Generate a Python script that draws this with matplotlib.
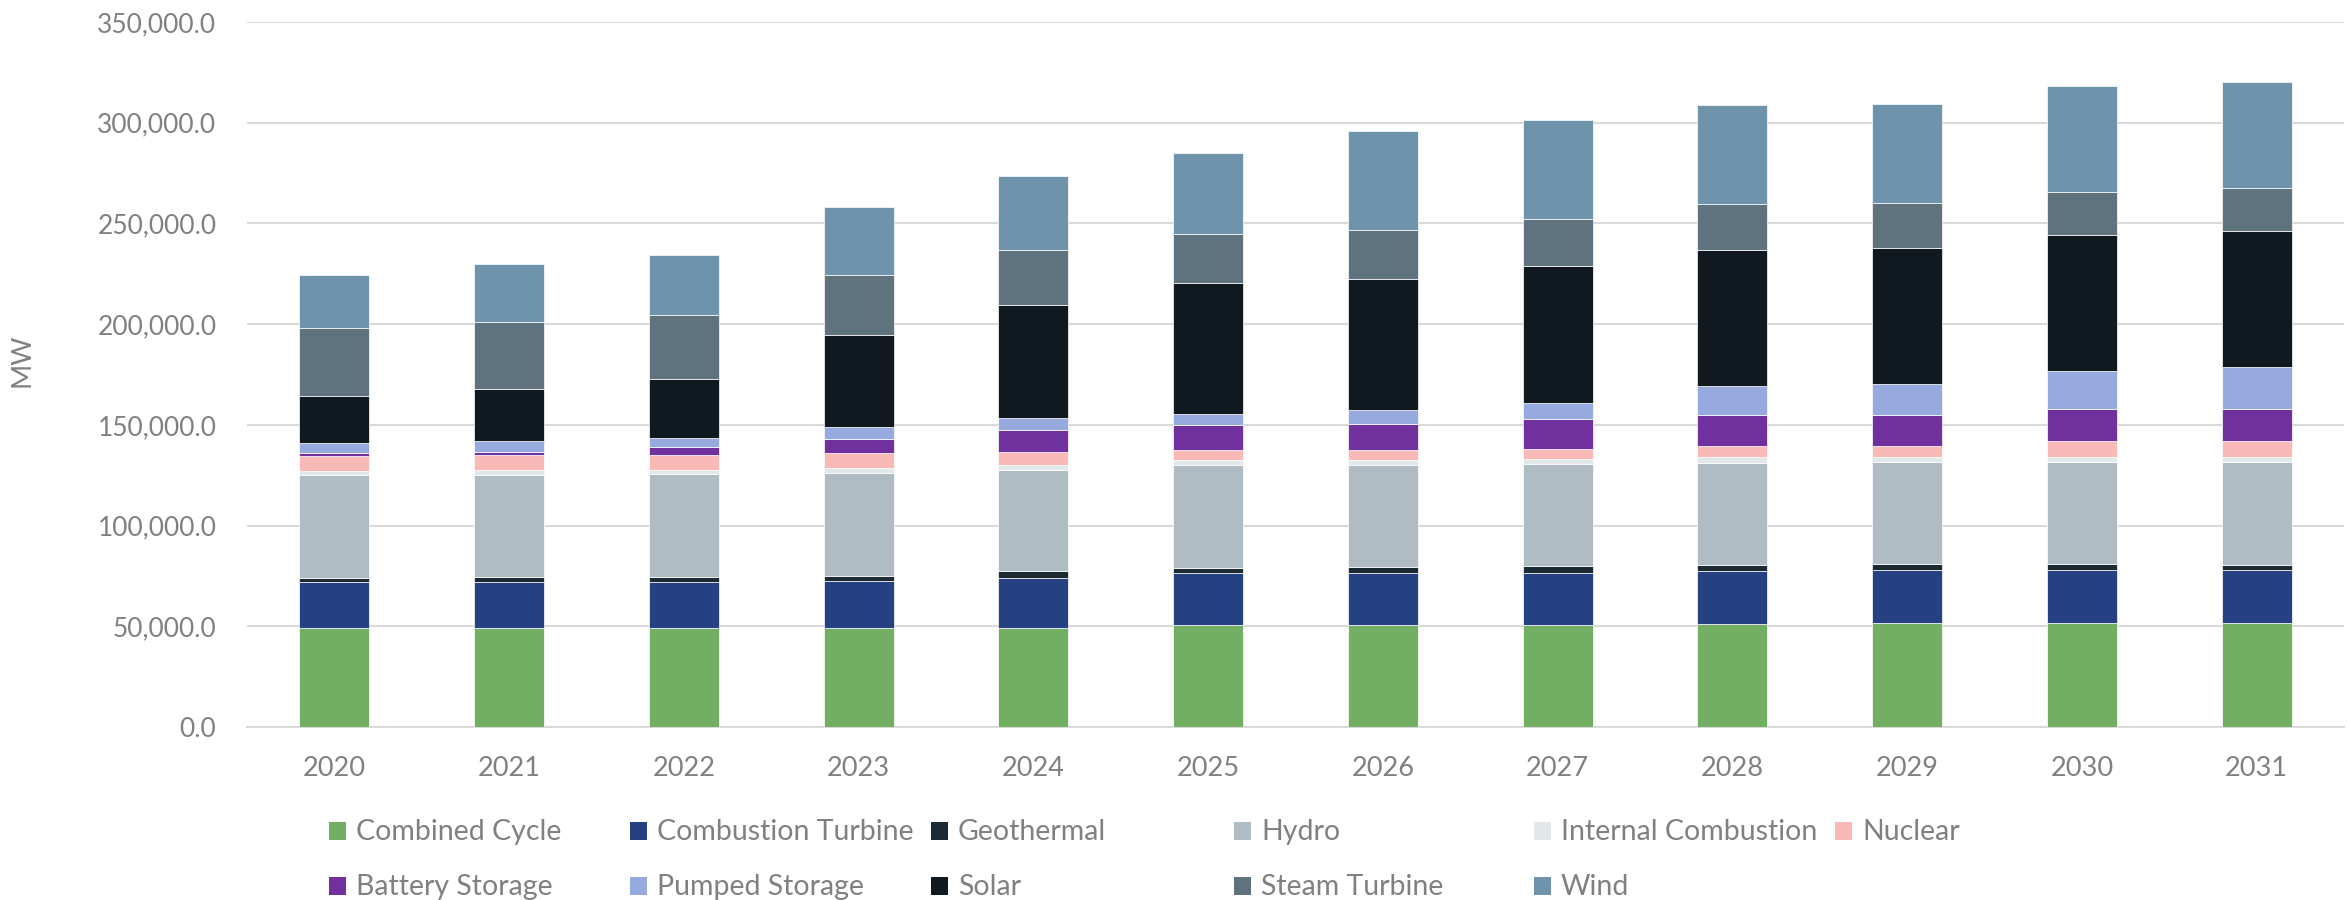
import matplotlib
matplotlib.use("Agg")
import matplotlib.pyplot as plt
from matplotlib.patches import Rectangle
from matplotlib.ticker import FuncFormatter, MultipleLocator
import numpy as np

plt.rcParams['font.family'] = ['Lato', 'DejaVu Sans']

years = ['2020', '2021', '2022', '2023', '2024', '2025',
         '2026', '2027', '2028', '2029', '2030', '2031']

# MW by technology, stacked bottom to top
combined_cycle = [49100, 49100, 49100, 49100, 49100, 50700, 50500, 50500, 51100, 51400, 51400, 51400]
combustion_turbine = [22850, 22850, 22850, 23500, 24900, 25750, 25950, 25950, 26350, 26350, 26350, 26350]
geothermal = [2100, 2400, 2750, 2600, 3200, 2650, 3100, 3300, 3100, 3100, 3100, 2900]
hydro = [50850, 50900, 50700, 50700, 50400, 50900, 50700, 50900, 50700, 50500, 50500, 50700]
internal_combustion = [2250, 2250, 2250, 2600, 2500, 2450, 2250, 2250, 2700, 2450, 2450, 2450]
nuclear = [7500, 7500, 7300, 7300, 6300, 5150, 5150, 5350, 5350, 5500, 8400, 8200]
battery_storage = [1200, 1750, 3850, 7300, 11000, 12150, 12750, 14850, 15450, 15500, 15700, 15950]
pumped_storage = [5050, 5200, 4900, 5750, 5900, 5750, 7000, 7850, 14400, 15300, 18600, 20600]
solar = [23200, 25800, 28900, 45800, 56300, 65100, 64900, 67750, 67800, 67550, 67800, 67800]
steam_turbine = [33800, 33100, 31700, 29600, 27200, 24300, 24300, 23300, 22850, 22600, 21500, 21250]
wind = [26300, 29100, 30000, 34000, 36550, 39950, 49250, 49250, 49000, 49200, 52500, 52700]

labels = ['Combined Cycle', 'Combustion Turbine', 'Geothermal', 'Hydro',
          'Internal Combustion', 'Nuclear', 'Battery Storage', 'Pumped Storage',
          'Solar', 'Steam Turbine', 'Wind']
series = [combined_cycle, combustion_turbine, geothermal, hydro, internal_combustion,
          nuclear, battery_storage, pumped_storage, solar, steam_turbine, wind]
colors = ['#72AF62', '#264182', '#1C2B33', '#B0BCC3', '#E2E8EA', '#F9B9B7',
          '#70309E', '#96AADF', '#111920', '#5F737E', '#6E93AA']

grey = '#808080'

fig = plt.figure(figsize=(23.49, 9), dpi=100)
ax = fig.add_axes([247 / 2349, 1 - 727 / 900, (2344 - 247) / 2349, (727 - 22) / 900])

x = np.arange(len(years))
bottom = np.zeros(len(years))
for vals, lab, col in zip(series, labels, colors):
    ax.bar(x, vals, 0.4, bottom=bottom, color=col, label=lab,
           edgecolor='white', linewidth=0.5, zorder=3)
    bottom += np.array(vals)

ax.set_xlim(-0.5, len(years) - 0.5)
ax.set_ylim(0, 350000)
ax.yaxis.set_major_locator(MultipleLocator(50000))
ax.yaxis.set_major_formatter(FuncFormatter(lambda v, p: '{:,.1f}'.format(v)))
ax.set_xticks(x)
ax.set_xticklabels(years)
ax.grid(axis='y', color='#D9D9D9', linewidth=1.5, zorder=0)
for s in ['top', 'right', 'left']:
    ax.spines[s].set_visible(False)
ax.spines['bottom'].set_color('#D9D9D9')
ax.spines['bottom'].set_linewidth(1.5)
ax.tick_params(axis='y', length=0, pad=22, labelsize=19, labelcolor=grey)
ax.tick_params(axis='x', length=0, pad=21, labelsize=19.5, labelcolor=grey)
ax.set_ylabel('MW', fontsize=19.5, color=grey)
ax.yaxis.set_label_coords(-(247 - 34) / (2344 - 247), 0.52)

# legend laid out like the original: six fixed-width columns, two rows
col_x = [329, 630, 931, 1234, 1534, 1835]
row_base = [840, 895]
for i, (lab, col) in enumerate(zip(labels, colors)):
    r, c = divmod(i, 6)
    x0 = col_x[c]
    yb = row_base[r]
    fig.patches.append(Rectangle((x0 / 2349, 1 - yb / 900), 17 / 2349, 18 / 900,
                                 transform=fig.transFigure, facecolor=col,
                                 edgecolor='none'))
    fig.text((x0 + 27) / 2349, 1 - yb / 900, lab, fontsize=20.5, color=grey,
             va='baseline', ha='left')

fig.savefig('out.png', dpi=100)
